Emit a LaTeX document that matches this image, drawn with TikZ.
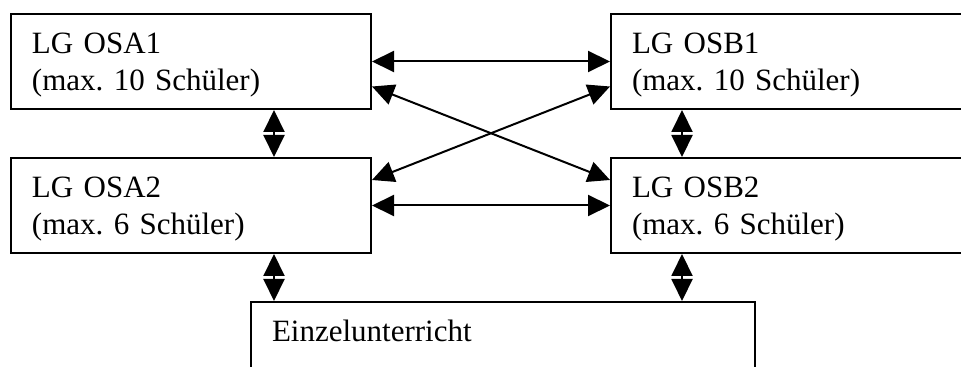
\documentclass[tikz,border=0pt]{standalone}
\usepackage{fontspec}
\setmainfont{Liberation Serif}
\usetikzlibrary{arrows.meta,calc}

\tikzset{
  grp/.style={draw, line width=1pt, anchor=north west, align=left,
    inner xsep=10.5pt, inner ysep=0pt, text width=159pt,
    text height=19.6pt, text depth=27.9pt,
    font=\fontsize{15.5pt}{18.5pt}\selectfont},
  link/.style={line width=1pt,
    {Triangle[length=11pt,width=10.5pt]}-{Triangle[length=11pt,width=10.5pt]}}
}

\begin{document}
\frenchspacing
\begin{tikzpicture}[x=0.5pt, y=-0.5pt]
      \clip (0,0) rectangle (961,367);
      \node[grp] (osa1) at (10,13) {LG OSA1\\(max. 10 Schüler)};
      \node[grp] (osb1) at (610,13) {LG OSB1\\(max. 10 Schüler)};
      \node[grp] (osa2) at (10,157) {LG OSA2\\(max. 6 Schüler)};
      \node[grp] (osb2) at (610,157) {LG OSB2\\(max. 6 Schüler)};
      \node[grp, text width=231pt] (einzel) at (250,301) {Einzelunterricht};
      % horizontal links
      \draw[link] (osa1.east) -- (osb1.west);
      \draw[link] (osa2.east) -- (osb2.west);
      % crossing links
      \draw[link] ($(osa1.east)+(0,25)$) -- ($(osb2.north west)+(0,23)$);
      \draw[link] ($(osa2.north east)+(0,23)$) -- ($(osb1.west)+(0,25)$);
      % vertical links
      \draw[link] ($(osa1.south west)+(264,0)$) -- ($(osa2.north west)+(264,0)$);
      \draw[link] ($(osb1.south west)+(72,0)$) -- ($(osb2.north west)+(72,0)$);
      \draw[link] ($(osa2.south west)+(264,0)$) -- ($(einzel.north west)+(24,0)$);
      \draw[link] ($(osb2.south west)+(72,0)$) -- ($(einzel.north west)+(432,0)$);
\end{tikzpicture}
\end{document}
